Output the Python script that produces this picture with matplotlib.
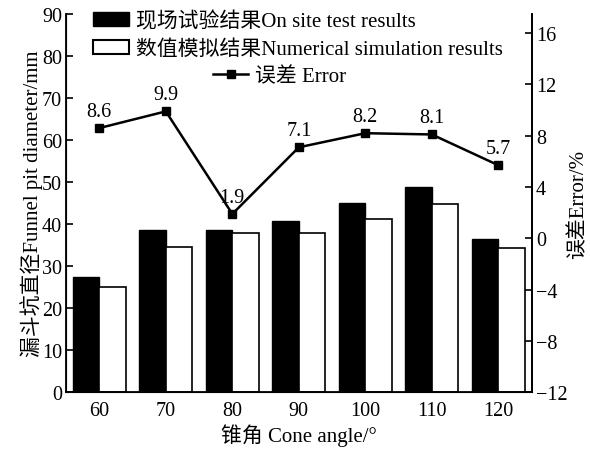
import numpy as np
import matplotlib
matplotlib.use('Agg')
from matplotlib import pyplot as plt
from matplotlib.patches import Patch
from matplotlib.lines import Line2D

plt.rcParams['font.family'] = ['Liberation Serif', 'Noto Sans CJK SC']
plt.rcParams['axes.unicode_minus'] = True

# data
angles = ['60', '70', '80', '90', '100', '110', '120']
site_test = [27.3, 38.6, 38.6, 40.7, 45.0, 48.9, 36.5]
simulation = [25.0, 34.5, 37.9, 37.9, 41.2, 44.8, 34.4]
error = [8.6, 9.9, 1.9, 7.1, 8.2, 8.1, 5.7]

fig = plt.figure(figsize=(5.9, 4.52), dpi=100)
ax = fig.add_axes([0.112, 0.130, 0.789, 0.837])

x = np.arange(len(angles))
w = 0.4
ax.bar(x - w, site_test, width=w, align='edge', color='black', edgecolor='black', linewidth=1)
ax.bar(x, simulation, width=w, align='edge', color='white', edgecolor='black', linewidth=1.2)

ax.set_xlim(-0.5, len(angles) - 0.5)
ax.set_ylim(0, 90)
ax.set_yticks(np.arange(0, 91, 10))
ax.set_xticks(x)
ax.set_xticklabels(angles)
ax.tick_params(axis='x', length=0, labelsize=14.5, pad=6)
ax.tick_params(axis='y', direction='in', length=5, width=1.2, labelsize=14.5, pad=3)
ax.spines['top'].set_visible(False)
for s in ['left', 'bottom', 'right']:
    ax.spines[s].set_linewidth(1.3)
ax.set_xlabel('锥角 Cone angle/°', fontsize=15, labelpad=3)
ax.set_ylabel('漏斗坑直径Funnel pit diameter/mm', fontsize=15, labelpad=-1)

ax2 = ax.twinx()
ax2.plot(x, error, color='black', linewidth=1.8, marker='s', markersize=6)
for xi, e in zip(x, error):
    ax2.text(xi, e + 0.55, '%.1f' % e, ha='center', va='bottom', fontsize=14.5)
ax2.set_ylim(-12, 17.5)
ax2.set_yticks(np.arange(-12, 17, 4))
ax2.tick_params(axis='y', direction='in', length=5, width=1.2, labelsize=14.5, pad=3)
ax2.spines['top'].set_visible(False)
ax2.spines['right'].set_linewidth(1.3)
ax2.set_ylabel('误差Error/%', fontsize=15, labelpad=1)

h1 = [Patch(facecolor='black', edgecolor='black'),
      Patch(facecolor='white', edgecolor='black', linewidth=1.5)]
fig.legend(h1, ['现场试验结果On site test results', '数值模拟结果Numerical simulation results'],
           loc='upper left', bbox_to_anchor=(0.158, 0.974), frameon=False, fontsize=15,
           borderpad=0, borderaxespad=0,
           handlelength=1.7, handleheight=0.65, handletextpad=0.33, labelspacing=0.4)
h2 = [Line2D([], [], color='black', linewidth=1.8, marker='s', markersize=6)]
fig.legend(h2, ['误差 Error'], loc='upper left', bbox_to_anchor=(0.361, 0.851), frameon=False,
           fontsize=15, borderpad=0, borderaxespad=0, handlelength=1.7, handletextpad=0.33)

plt.savefig('out.png', dpi=100)
